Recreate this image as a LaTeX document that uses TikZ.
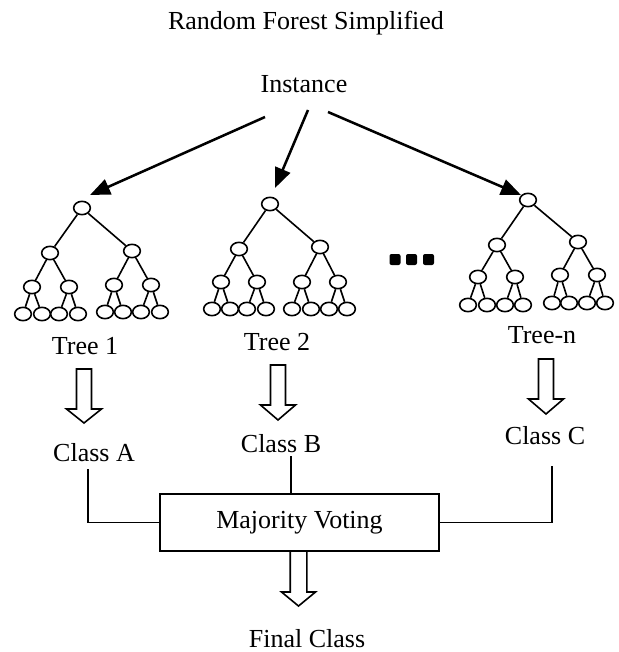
\documentclass[tikz,border=0pt]{standalone}
\usepackage{fontspec}
\setmainfont{Liberation Serif}
\usetikzlibrary{arrows.meta,shapes.geometric}
\newcommand\harrow[6]{%
  \draw[hollow] ({#1-#5},#2) -- ({#1+#5},#2) -- ({#1+#5},#3) -- ({#1+#6},#3)
    -- (#1,#4) -- ({#1-#6},#3) -- ({#1-#5},#3) -- cycle;}
\begin{document}
\begin{tikzpicture}[x=0.75pt,y=-0.75pt,
  every node/.style={font=\fontsize{19.5}{23}\selectfont},
  lbl/.style={anchor=base, inner sep=2pt},
  tn/.style={draw, ellipse, line width=1.2pt, minimum width=12.5pt, minimum height=10pt, inner sep=0pt},
  te/.style={line width=1.2pt},
  ia/.style={line width=1.9pt, -{Triangle[length=15pt,width=12pt]}},
  conn/.style={line width=1.1pt},
  hollow/.style={line width=1.2pt, line join=miter},
  dot/.style={fill=black, rounded corners=1.5pt, minimum size=8.25pt, inner sep=0pt},
  box/.style={draw, line width=1.2pt, minimum width=209.25pt, minimum height=42.75pt, inner sep=0pt},
]
\useasboundingbox (0,0) rectangle (618,652);

% texts
\node[lbl] (title) at (306,30) {Random Forest Simplified};
\node[lbl] (inst) at (304,93) {Instance};
\node[lbl] (tr1) at (85,354) {Tree 1};
\node[lbl] (tr2) at (277,350) {Tree 2};
\node[lbl] (trn) at (542,343) {Tree-n};
\node[lbl] (ca) at (94,461) {Class A};
\node[lbl] (cb) at (281,452) {Class B};
\node[lbl] (cc) at (545,444) {Class C};
\node[box] (mv) at (299.5,522.5) {Majority Voting};
\node[lbl] (fc) at (307,647) {Final Class};

% tree 1
\node[tn] (t1r) at (82,208) {};
\node[tn] (t1a) at (50,253) {};
\node[tn] (t1b) at (132,251) {};
\node[tn] (t1aa) at (32,287) {};
\node[tn] (t1ab) at (69,287) {};
\node[tn] (t1ba) at (114,285) {};
\node[tn] (t1bb) at (151,285) {};
\node[tn] (t1aa1) at (23,314) {};
\node[tn] (t1aa2) at (42,314) {};
\node[tn] (t1ab1) at (59,314) {};
\node[tn] (t1ab2) at (78,314) {};
\node[tn] (t1ba1) at (105,312) {};
\node[tn] (t1ba2) at (123,312) {};
\node[tn] (t1bb1) at (141,312) {};
\node[tn] (t1bb2) at (160,312) {};

% tree 2
\node[tn] (t2r) at (270,204) {};
\node[tn] (t2a) at (239,249) {};
\node[tn] (t2b) at (320,247) {};
\node[tn] (t2aa) at (221,282) {};
\node[tn] (t2ab) at (257,282) {};
\node[tn] (t2ba) at (302,282) {};
\node[tn] (t2bb) at (338,282) {};
\node[tn] (t2aa1) at (212,309) {};
\node[tn] (t2aa2) at (230,309) {};
\node[tn] (t2ab1) at (247,309) {};
\node[tn] (t2ab2) at (266,309) {};
\node[tn] (t2ba1) at (292,309) {};
\node[tn] (t2ba2) at (311,309) {};
\node[tn] (t2bb1) at (329,309) {};
\node[tn] (t2bb2) at (347,309) {};

% tree n
\node[tn] (t3r) at (528,200) {};
\node[tn] (t3a) at (497,245) {};
\node[tn] (t3b) at (578,242) {};
\node[tn] (t3aa) at (478,277) {};
\node[tn] (t3ab) at (515,277) {};
\node[tn] (t3ba) at (560,275) {};
\node[tn] (t3bb) at (597,275) {};
\node[tn] (t3aa1) at (468,305) {};
\node[tn] (t3aa2) at (487,305) {};
\node[tn] (t3ab1) at (505,305) {};
\node[tn] (t3ab2) at (523,305) {};
\node[tn] (t3ba1) at (552,303) {};
\node[tn] (t3ba2) at (569,303) {};
\node[tn] (t3bb1) at (587,303) {};
\node[tn] (t3bb2) at (605,303) {};

\foreach \T in {t1,t2,t3}{
  \draw[te] (\T r) -- (\T a);
  \draw[te] (\T r) -- (\T b);
  \foreach \p in {a,b}{
    \draw[te] (\T\p) -- (\T\p a);
    \draw[te] (\T\p) -- (\T\p b);
    \foreach \q in {a,b}{
      \draw[te] (\T\p\q) -- (\T\p\q 1);
      \draw[te] (\T\p\q) -- (\T\p\q 2);
    }
  }
}

% dots
\node[dot] (d1) at (395,259.5) {};
\node[dot] (d2) at (411.5,259.5) {};
\node[dot] (d3) at (428.5,259.5) {};

% instance arrows
\coordinate (i1) at (265,117);
\coordinate (i2) at (308,110);
\coordinate (i3) at (328,112);
\coordinate (e1) at (90,195);
\coordinate (e2) at (275,188);
\coordinate (e3) at (521,195);
\draw[ia] (i1) -- (e1);
\draw[ia] (i2) -- (e2);
\draw[ia] (i3) -- (e3);

% hollow arrows
\harrow{84}{369}{409}{423}{7.5}{17.5}
\harrow{278}{365}{405}{420}{7.5}{17.5}
\harrow{546}{359}{399}{414}{7.5}{17.5}
\harrow{298.5}{551}{592}{606}{8.3}{17}

% connectors to the box
\coordinate (ca1) at (88,469);
\draw[conn] (ca1) |- (mv.west);
\coordinate (cb1) at (291,456);
\draw[conn] (cb1) -- (cb1 |- mv.north);
\coordinate (cc1) at (552,466);
\draw[conn] (cc1) |- (mv.east);
\end{tikzpicture}
\end{document}
